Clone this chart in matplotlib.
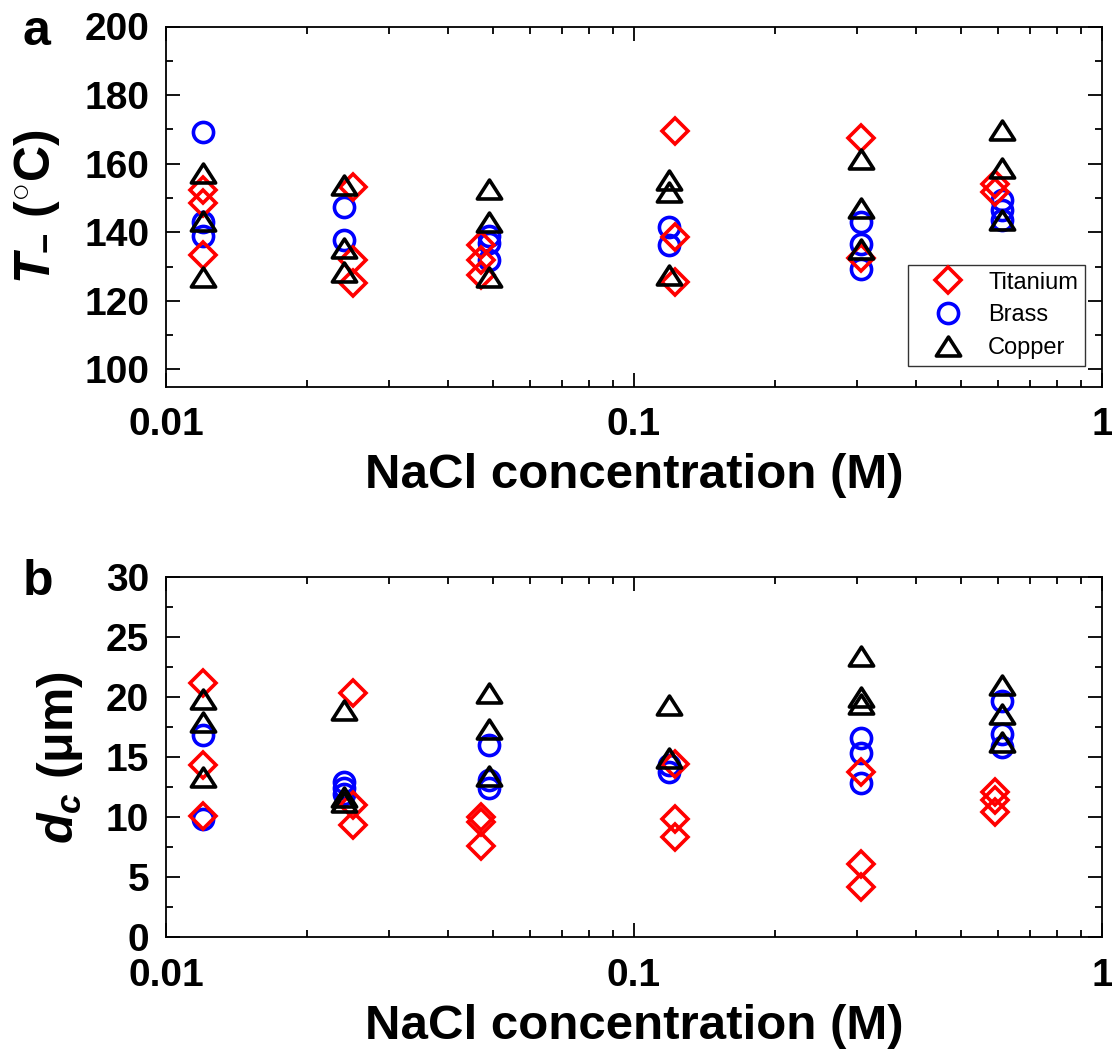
import numpy as np
import matplotlib
matplotlib.use("Agg")
import matplotlib.pyplot as plt
from matplotlib.path import Path
from matplotlib.ticker import LogLocator, MultipleLocator, FixedLocator, FixedFormatter

plt.rcParams['font.family'] = ['Liberation Sans', 'DejaVu Sans']
plt.rcParams['mathtext.fontset'] = 'custom'
plt.rcParams['mathtext.rm'] = 'Liberation Sans:bold'
plt.rcParams['mathtext.it'] = 'Liberation Sans:italic:bold'
plt.rcParams['mathtext.bf'] = 'Liberation Sans:bold'

# panel a: T (deg C) vs NaCl concentration
ti_x_a = [0.012, 0.012, 0.012, 0.0251, 0.0251, 0.0251, 0.047, 0.047, 0.047,
          0.1225, 0.1225, 0.1225, 0.305, 0.305, 0.59, 0.59]
ti_y_a = [152.3, 148.4, 133.4, 153.1, 132.0, 125.2, 136.2, 132.0, 127.6,
          169.5, 138.6, 125.5, 167.6, 132.5, 154.2, 151.7]
br_x_a = [0.012, 0.012, 0.012, 0.024, 0.024, 0.049, 0.049, 0.049,
          0.1185, 0.1185, 0.305, 0.305, 0.305, 0.61, 0.61, 0.61]
br_y_a = [169.2, 143.1, 139.0, 147.3, 137.6, 138.8, 136.8, 132.0,
          141.6, 136.2, 143.0, 136.5, 129.4, 149.3, 146.4, 143.5]
cu_x_a = [0.012, 0.012, 0.012, 0.024, 0.024, 0.024, 0.049, 0.049, 0.049,
          0.1185, 0.1185, 0.1185, 0.305, 0.305, 0.305, 0.61, 0.61, 0.61]
cu_y_a = [157.4, 143.4, 126.8, 153.8, 135.5, 128.5, 152.7, 143.0, 126.9,
          155.3, 151.8, 127.6, 161.5, 147.0, 135.2, 169.9, 158.6, 143.5]

# panel b: d_c (um) vs NaCl concentration
ti_x_b = [0.012, 0.012, 0.012, 0.0251, 0.0251, 0.0251, 0.047, 0.047, 0.047,
          0.1225, 0.1225, 0.1225, 0.305, 0.305, 0.305, 0.59, 0.59, 0.59]
ti_y_b = [21.2, 14.3, 10.1, 20.3, 11.0, 9.3, 10.0, 9.6, 7.6,
          14.4, 9.8, 8.3, 13.75, 6.1, 4.2, 12.1, 11.4, 10.4]
br_x_b = [0.012, 0.012, 0.024, 0.024, 0.024, 0.049, 0.049, 0.049,
          0.1185, 0.1185, 0.305, 0.305, 0.305, 0.61, 0.61, 0.61]
br_y_b = [16.8, 9.8, 12.9, 12.4, 11.9, 16.0, 13.1, 12.4,
          14.3, 13.75, 16.6, 15.3, 12.8, 19.7, 16.9, 15.8]
cu_x_b = [0.012, 0.012, 0.012, 0.024, 0.024, 0.024, 0.049, 0.049, 0.049,
          0.1185, 0.1185, 0.305, 0.305, 0.305, 0.61, 0.61, 0.61]
cu_y_b = [19.8, 17.9, 13.3, 18.9, 11.7, 11.25, 20.3, 17.3, 13.4,
          19.3, 14.9, 23.4, 20.0, 19.4, 21.0, 18.6, 16.25]

x_ticks = [0.01, 0.1, 1]
x_ticklabels = ['0.01', '0.1', '1']

tri = Path([(0, 0.78), (-1, -0.78), (1, -0.78), (0, 0.78)],
           [Path.MOVETO, Path.LINETO, Path.LINETO, Path.CLOSEPOLY])

fig = plt.figure(figsize=(11.12, 10.51), dpi=100)
W, H = 1112, 1051
ax_a = fig.add_axes([166 / W, 1 - 386.5 / H, 936 / W, 360 / H])
ax_b = fig.add_axes([166 / W, 1 - 937 / H, 936 / W, 360 / H])

mew = 2.6


def draw(ax, tx, ty, bx, by, cx, cy):
    hb, = ax.plot(bx, by, ls='none', marker='o', ms=14.5, mfc='none',
                  mec='#0000FF', mew=mew, zorder=3, label='Brass')
    ht, = ax.plot(tx, ty, ls='none', marker='D', ms=13, mfc='none',
                  mec='#FF0000', mew=mew, zorder=4, label='Titanium')
    hc, = ax.plot(cx, cy, ls='none', marker=tri, ms=17.5, mfc='none',
                  mec='black', mew=mew, zorder=5, label='Copper')
    ax.set_xscale('log')
    ax.set_xlim(0.01, 1)
    ax.xaxis.set_major_locator(FixedLocator(x_ticks))
    ax.xaxis.set_major_formatter(FixedFormatter(x_ticklabels))
    ax.xaxis.set_minor_locator(LogLocator(base=10, subs=np.arange(2, 10)))
    ax.xaxis.set_minor_formatter(FixedFormatter([]))
    ax.tick_params(which='both', direction='in', top=True, right=True, width=1.3)
    ax.tick_params(which='major', length=10, labelsize=28, pad=12)
    ax.tick_params(axis='x', which='major', pad=15)
    ax.tick_params(which='minor', length=5)
    for s in ax.spines.values():
        s.set_linewidth(1.3)
    ax.set_xlabel('NaCl concentration (M)', fontsize=35.5, fontweight='bold', labelpad=7)
    return ht, hb, hc


ht, hb, hc = draw(ax_a, ti_x_a, ti_y_a, br_x_a, br_y_a, cu_x_a, cu_y_a)
ax_a.set_ylim(95, 200)
ax_a.yaxis.set_major_locator(FixedLocator([100, 120, 140, 160, 180, 200]))
ax_a.yaxis.set_minor_locator(MultipleLocator(10))
ax_a.set_ylabel(r'$T_{-}$ ($^{\circ}$C)', fontsize=36, fontweight='bold')
ax_a.yaxis.set_label_coords(-0.111, 0.5)

leg = ax_a.legend([ht, hb, hc], ['Titanium', 'Brass', 'Copper'],
                  loc='lower right', bbox_to_anchor=(0.982, 0.057),
                  borderaxespad=0, fontsize=17, frameon=True, fancybox=False,
                  edgecolor='black', handlelength=2.8, handletextpad=0.3,
                  borderpad=0.3, labelspacing=0.45)
leg.get_frame().set_linewidth(1.0)

draw(ax_b, ti_x_b, ti_y_b, br_x_b, br_y_b, cu_x_b, cu_y_b)
ax_b.set_ylim(0, 30)
ax_b.yaxis.set_major_locator(MultipleLocator(5))
ax_b.yaxis.set_minor_locator(MultipleLocator(2.5))
ax_b.set_ylabel(r'$d_{c}$ (μm)', fontsize=36, fontweight='bold')
ax_b.yaxis.set_label_coords(-0.087, 0.5)

for ax in (ax_a, ax_b):
    for lab in ax.get_xticklabels() + ax.get_yticklabels():
        lab.set_fontweight('bold')

fig.text(23 / W, 1 - 45 / H, 'a', fontsize=36, fontweight='bold', va='baseline')
fig.text(23 / W, 1 - 595 / H, 'b', fontsize=36, fontweight='bold', va='baseline')

fig.savefig('out.png', dpi=100)
